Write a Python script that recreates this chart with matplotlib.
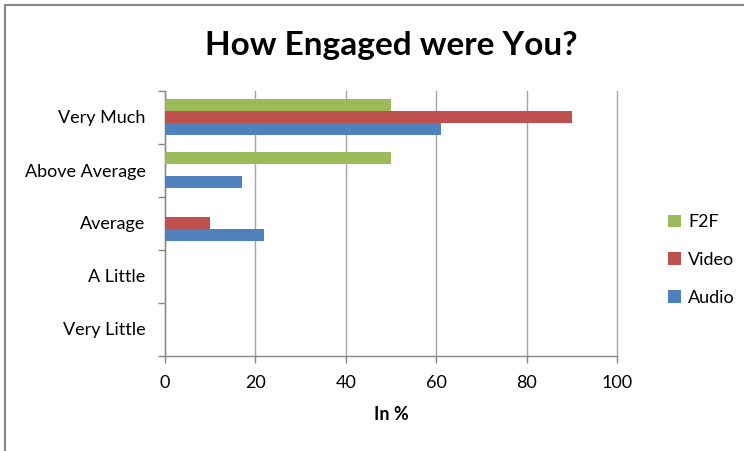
import matplotlib
matplotlib.use("Agg")
import matplotlib.pyplot as plt
from matplotlib.patches import Rectangle
import numpy as np

categories = ["Very Much", "Above Average", "Average", "A Little", "Very Little"]
audio = [61, 17, 22, 0, 0]
video = [90, 0, 10, 0, 0]
f2f = [50, 50, 0, 0, 0]
xticks = [0, 20, 40, 60, 80, 100]

plt.rcParams['font.family'] = ['Lato', 'DejaVu Sans']

fig = plt.figure(figsize=(7.44, 4.51), dpi=100)
fig.patch.set_facecolor('white')
# chart-area border (cropped on right/bottom)
fig.add_artist(Rectangle((5/744, -0.1), 1.2, 1 - 5/451 + 0.1, transform=fig.transFigure,
                         fill=False, edgecolor='#878787', linewidth=1.5))

ax = fig.add_axes([165/744, 1 - 355.5/451, (617 - 165)/744, (355.5 - 90.5)/451])
y = np.arange(len(categories))
h = 1 / 4.5
ax.barh(y + h, audio, height=h, color='#4F81BD', label='Audio', zorder=3)
ax.barh(y, video, height=h, color='#C0504D', label='Video', zorder=3)
ax.barh(y - h, f2f, height=h, color='#9BBB59', label='F2F', zorder=3)

ax.set_ylim(len(categories) - 0.5, -0.5)
ax.set_xlim(0, 100)
ax.set_xticks(xticks)
ax.set_yticks(y)
ax.set_yticklabels(categories, fontsize=13)
ax.set_yticks(np.arange(len(categories) + 1) - 0.5, minor=True)
ax.tick_params(axis='y', which='major', length=0, pad=14)
ax.tick_params(axis='y', which='minor', length=5, color='#878787', width=1)
ax.tick_params(axis='x', which='major', length=5, color='#878787', width=1, labelsize=13, pad=9)
ax.grid(axis='x', color='#a6a6a6', linewidth=1, zorder=0)
for gl in ax.get_xgridlines():
    gl.set_clip_on(False)
for s in ['top', 'right']:
    ax.spines[s].set_visible(False)
for s in ['left', 'bottom']:
    ax.spines[s].set_color('#878787')
    ax.spines[s].set_linewidth(1)
ax.set_xlabel('In %', fontsize=13, fontweight='bold', labelpad=11)

fig.text(391/744, 1 - 45/451, 'How Engaged were You?', fontsize=24, fontweight='bold',
         ha='center', va='center')

handles, labels = ax.get_legend_handles_labels()
leg = fig.legend(handles[::-1], labels[::-1], loc='center left', bbox_to_anchor=(652/744, 1 - 260/451),
                 frameon=False, fontsize=13, handlelength=0.7, handleheight=0.7,
                 labelspacing=1.2, handletextpad=0.4)

fig.savefig('out.png', dpi=100, facecolor='white')
